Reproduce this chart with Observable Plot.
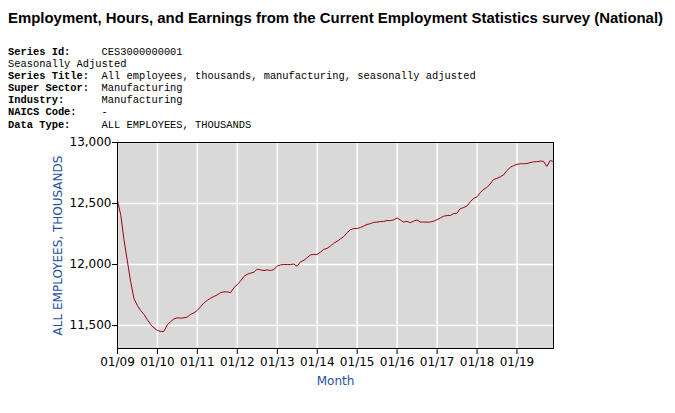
<!DOCTYPE html>
<html><head><meta charset="utf-8">
<script src="https://cdn.jsdelivr.net/npm/d3@7"></script>
<script src="https://cdn.jsdelivr.net/npm/@observablehq/plot@0.6"></script>
<style>
body{margin:0;background:#fff;width:675px;height:413px;overflow:hidden;position:relative}
#title{position:absolute;left:8px;top:9px;font:bold 14.93px "Liberation Sans",Arial,sans-serif;color:#000;white-space:nowrap}
#meta{position:absolute;left:8px;top:46px;font:10.4px/12.1px "Liberation Mono",monospace;margin:0;white-space:pre;color:#000}
#meta b{font-weight:bold}
#chart{position:absolute;left:0;top:130px}
</style>
</head><body>
<div id="title"></div>
<pre id="meta"></pre>
<div id="chart"></div>
<script>
const titleText = "Employment, Hours, and Earnings from the Current Employment Statistics survey (National)";
const metaLabels = ["Series Id:", "", "Series Title:", "Super Sector:", "Industry:", "NAICS Code:", "Data Type:"];
const metaValues = ["CES3000000001", "Seasonally Adjusted", "All employees, thousands, manufacturing, seasonally adjusted", "Manufacturing", "Manufacturing", "-", "ALL EMPLOYEES, THOUSANDS"];
const yLabel = "ALL EMPLOYEES, THOUSANDS";
const xLabel = "Month";
const startYear = 2009;
const tickYears = [2009,2010,2011,2012,2013,2014,2015,2016,2017,2018,2019];
const yTicks = [11500, 12000, 12500, 13000];
// monthly values, Jan 2009 .. Dec 2019 (thousands)
const values = [
12526,12400,12205,12030,11860,11720,11665,11622,11590,11548,11508,11480,
11460,11452,11452,11505,11532,11555,11563,11561,11563,11570,11592,11604,
11625,11655,11685,11706,11724,11738,11751,11770,11776,11776,11770,11810,
11836,11866,11902,11920,11930,11937,11962,11956,11951,11956,11951,11960,
11987,11998,12000,12000,12000,12004,11986,12022,12035,12056,12079,12082,
12084,12103,12124,12132,12152,12175,12190,12210,12230,12262,12285,12295,
12295,12304,12315,12328,12335,12345,12348,12352,12354,12360,12360,12366,
12382,12364,12348,12354,12343,12356,12365,12348,12348,12348,12348,12356,
12368,12382,12396,12401,12402,12417,12420,12458,12467,12480,12515,12542,
12555,12590,12616,12632,12660,12697,12706,12718,12735,12770,12796,12811,
12821,12826,12826,12827,12835,12842,12842,12848,12845,12804,12853,12842
];

document.getElementById("title").textContent = titleText;
const meta = document.getElementById("meta");
metaLabels.forEach((l, i) => {
  if (l) {
    const b = document.createElement("b");
    b.textContent = l.padEnd(15, " ");
    meta.appendChild(b);
  }
  meta.appendChild(document.createTextNode(metaValues[i] + "\n"));
});

const data = values.map((v, i) => ({date: new Date(Date.UTC(startYear, i, 1)), value: v}));
const tickDates = tickYears.map(y => new Date(Date.UTC(y, 0, 1)));
const labelColor = "#1f4f9f";

const chart = Plot.plot({
  width: 675, height: 283,
  marginLeft: 117, marginRight: 122, marginTop: 12, marginBottom: 65,
  style: {fontFamily: "'DejaVu Sans', Verdana, sans-serif", fontSize: "12px", background: "transparent", overflow: "visible", color: "#000"},
  x: {type: "utc", domain: [data[0].date, data[data.length - 1].date]},
  y: {domain: [11312, 13000]},
  marks: [
    Plot.frame({fill: "#d9d9d9"}),
    Plot.gridX(tickDates, {stroke: "#ffffff", strokeOpacity: 1, strokeWidth: 1.5}),
    Plot.gridY(yTicks, {stroke: "#ffffff", strokeOpacity: 1, strokeWidth: 1.5}),
    Plot.line(data, {x: "date", y: "value", stroke: "#a00010", strokeWidth: 1}),
    Plot.frame({stroke: "#000", strokeWidth: 1}),
    Plot.axisX(tickDates, {tickFormat: d3.utcFormat("%m/%y"), tickSize: 6, tickPadding: 3, label: null, stroke: "#000", strokeOpacity: 1}),
    Plot.axisY(yTicks, {tickFormat: d3.format(","), tickSize: 5, tickPadding: 1, label: null, stroke: "#000", strokeOpacity: 1}),
    Plot.text([yLabel], {frameAnchor: "left", textAnchor: "middle", dx: -59, rotate: -90, fill: labelColor, text: d => d, fontSize: 12}),
    Plot.text([xLabel], {frameAnchor: "bottom", dy: 36, fill: labelColor, text: d => d, fontSize: 12})
  ]
});
document.getElementById("chart").appendChild(chart);
</script>
</body></html>
